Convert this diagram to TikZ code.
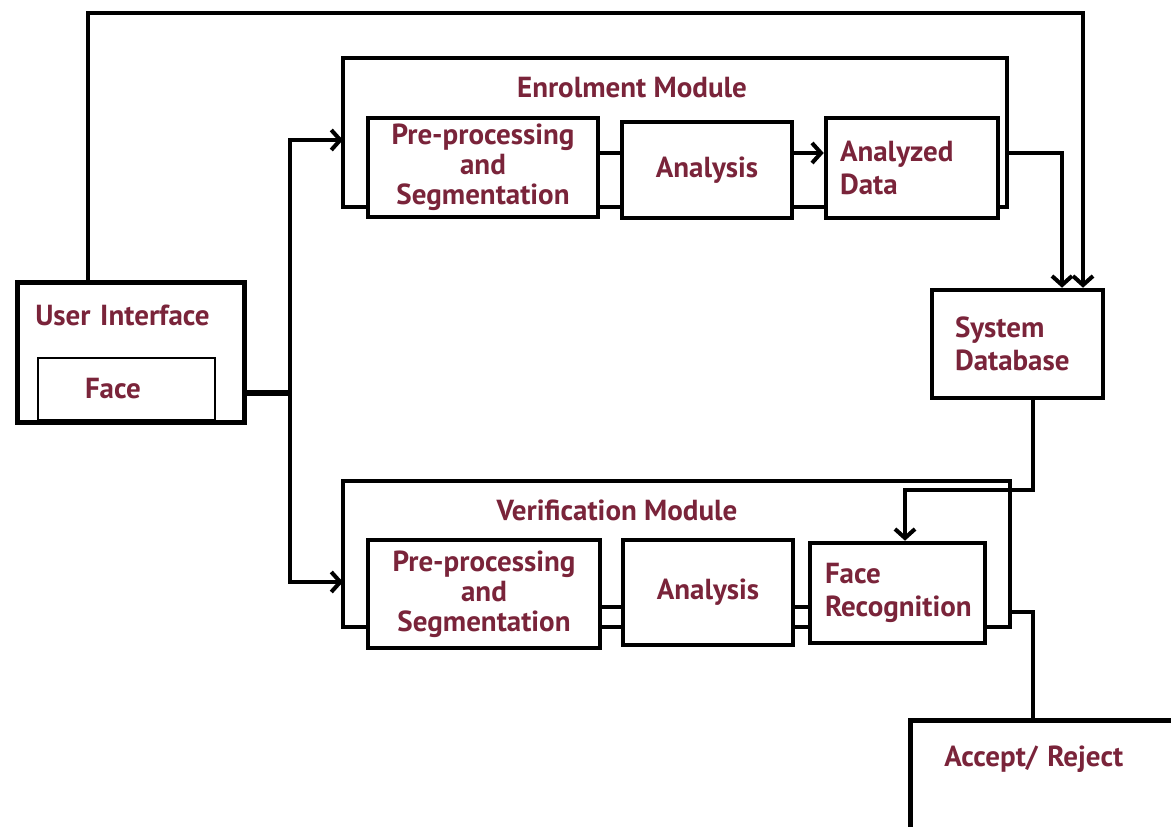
\documentclass[tikz,border=0pt]{standalone}
\usepackage{fontspec}
\setmainfont{PT Sans}
\usetikzlibrary{positioning,fit,arrows.meta}
\definecolor{labelred}{RGB}{122,36,58}

\begin{document}
\begin{tikzpicture}[
    x=0.02cm, y=-0.02cm,
    block/.style={rectangle, draw, line width=2.6pt, fill=white, inner sep=0pt,
      font=\fontsize{16.5}{17}\selectfont\bfseries, text=labelred, align=center},
    leftblock/.style={block, align=left, font=\fontsize{16.5}{19}\selectfont\bfseries},
    frame/.style={rectangle, draw, line width=2.3pt, inner sep=0pt},
    title/.style={font=\fontsize{16.5}{17}\selectfont\bfseries, text=labelred},
    link/.style={line width=2.3pt},
    relation/.style={link, -{Straight Barb[length=1.8mm,width=4mm]}}
  ]
    \clip (0,0) rectangle (1171,827);
    \fill[white] (0,0) rectangle (1171,827);

    % Module frames
    \node[frame, fit={(343,58) (1007,207)}] (enrolFrame) {};
    \node[frame, fit={(343,481) (1010,627)}] (verifFrame) {};
    \node[title] (enrolTitle) at (632,88) {Enrolment Module};
    \node[title] (verifTitle) at (617,510) {Verification Module};

    % Row 1: enrolment
    \node[block, minimum width=4.6cm, minimum height=1.98cm] (ePre) at (483,167.5) {Pre-processing\\and\\Segmentation};
    \node[block, minimum width=3.4cm, minimum height=1.92cm] (eAna) at (707,170) {Analysis};
    \node[leftblock, minimum width=3.44cm, minimum height=2cm, text width=2.88cm,
      inner xsep=0.28cm] (eData) at (912,168) {Analyzed\\Data};

    % Row 2: verification
    \node[block, minimum width=4.64cm, minimum height=2.16cm] (vPre) at (484,594) {Pre-processing\\and\\Segmentation};
    \node[block, minimum width=3.4cm, minimum height=2.1cm] (vAna) at (708,592.5) {Analysis};
    \node[leftblock, minimum width=3.5cm, minimum height=2cm, text width=2.9cm,
      inner xsep=0.3cm] (vRec) at (897.5,593) {Face\\Recognition};

    % Side boxes
    \node[block, anchor=north west, align=left, text width=3.82cm, inner xsep=0.36cm,
      inner ysep=0.3cm, text height=0.56cm, text depth=1.64cm] (ui) at (15,280) {User Interface};
    \node[leftblock, line width=1pt, minimum width=3.54cm, minimum height=1.24cm,
      text width=1.66cm, inner xsep=0.94cm] (face) at (126.5,389) {Face};
    \node[leftblock, minimum width=3.42cm, minimum height=2.16cm, text width=2.5cm,
      inner xsep=0.46cm] (db) at (1017.5,344) {System\\Database};
    \node[block, anchor=north west, align=left, text width=4.48cm, inner xsep=0.68cm,
      inner ysep=0.3cm, text height=0.62cm, text depth=2cm] (accept) at (908,718) {Accept/ Reject};

    % Relations
    \coordinate (topL) at (88,13);
    \coordinate (topR) at (1083,13);
    \coordinate (split) at (290,393);
    \coordinate (eIn) at (343,140);
    \coordinate (vIn) at (343,582);
    \coordinate (eRow) at (700,153);
    \coordinate (vRow) at (700,607);
    \coordinate (dbIn) at (1062,153);
    \coordinate (dbOut) at (1033,490);
    \coordinate (recIn) at (905,490);
    \coordinate (accIn) at (1033,612);

    \draw[relation] (ui.north -| topL) -- (topL) -- (topR) -- (db.north -| topR);
    \draw[link, line width=3.2pt] (ui.east |- split) -- (split);
    \draw[relation] (split) |- (eIn);
    \draw[relation] (split) |- (vIn);

    \draw[link] (ePre.east |- eRow) -- (eAna.west |- eRow);
    \draw[relation] (eAna.east |- eRow) -- (eData.west |- eRow);
    \draw[relation] (enrolFrame.east |- eRow) -- (dbIn) -- (db.north -| dbIn);

    \draw[relation] (db.south -| dbOut) -- (dbOut) -- (recIn) -- (vRec.north -| recIn);
    \draw[link] (vPre.east |- vRow) -- (vAna.west |- vRow);
    \draw[link] (vAna.east |- vRow) -- (vRec.west |- vRow);
    \draw[link] (verifFrame.east |- accIn) -- (accIn) -- (accept.north west -| accIn);
  \end{tikzpicture}
\end{document}
